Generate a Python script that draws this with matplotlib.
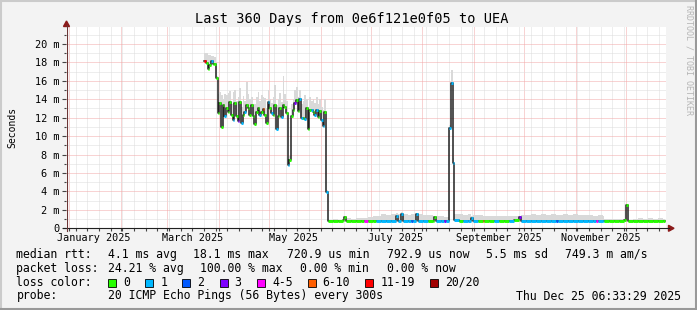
import datetime as dt
import matplotlib
matplotlib.use("Agg")
import matplotlib.pyplot as plt
import matplotlib.dates as mdates
import matplotlib.ticker as ticker
from matplotlib.patches import Polygon, Rectangle
from matplotlib.lines import Line2D
import numpy as np

W, H = 697, 310
START = dt.datetime(2024, 12, 30, 6, 33, 29)
SPAN_DAYS = 360
DATA_END = 359.5  # last sample (days after START)

# one step per entry: start day (after START), median rtt (ms), top of smoke (ms), loss bucket
days = [83, 84, 85, 86, 87, 88, 89, 90, 91, 92,
        93, 94, 95, 96, 97, 98, 99, 100, 101, 102,
        103, 104, 105, 106, 107, 108, 109, 110, 111, 112,
        113, 114, 115, 116, 117, 118, 119, 120, 121, 122,
        123, 124, 125, 126, 127, 128, 129, 130, 131, 132,
        133, 134, 135, 136, 137, 138, 139, 140, 141, 142,
        143, 144, 145, 146, 147, 148, 149, 150, 151, 152,
        153, 154, 155, 156,
        157, 160, 163, 166, 167, 168, 171, 174, 177, 179,
        181, 184, 186, 189, 192, 195, 198, 199, 201, 202,
        205, 207, 208, 210, 211, 214, 217, 220, 221, 222,
        225, 227, 228, 230, 231, 232, 233, 236, 238, 241,
        243, 244, 247, 250, 251, 254, 257, 260, 263, 266,
        269, 272, 273, 276, 279, 282, 285, 288, 291, 294,
        295, 298, 301, 304, 307, 310, 313, 316, 318, 319,
        322, 323, 326, 329, 332, 335, 336, 337, 340, 343,
        346, 349, 352, 355, 358]

median_ms = [18.1, 17.9, 17.25, 17.7, 18.1, 17.8, 17.8, 16.3, 12.5, 13.6,
             10.95, 13.4, 12.2, 13.0, 12.6, 13.7, 12.3, 11.75, 13.6, 12.2,
             11.65, 13.7, 11.4, 12.3, 12.6, 13.4, 13.0, 12.3, 13.4, 12.2,
             11.3, 12.6, 13.0, 12.3, 12.6, 12.9, 12.3, 11.4, 13.7, 13.0,
             12.5, 12.3, 13.4, 10.8, 12.2, 13.0, 12.1, 13.4, 13.2, 12.5,
             6.9, 7.4, 12.2, 12.8, 13.6, 13.9, 12.7, 14.0, 12.0, 12.0,
             11.9, 13.0, 10.8, 12.8, 12.8, 12.6, 12.3, 12.8, 12.1, 12.7,
             11.7, 11.1, 12.6, 3.9,
             0.82, 0.82, 0.82, 0.85, 1.25, 0.82, 0.82, 0.82, 0.82, 0.80,
             0.82, 0.82, 0.76, 0.76, 0.76, 0.78, 1.3, 0.80, 1.55, 0.78,
             0.78, 0.80, 0.78, 1.55, 0.80, 0.78, 0.82, 0.82, 1.2, 0.80,
             0.78, 0.80, 0.78, 10.9, 15.8, 7.1, 0.85, 0.80, 0.75, 0.78,
             1.1, 0.78, 0.80, 0.78, 0.80, 0.82, 0.78, 0.80, 0.82, 0.80,
             0.85, 1.2, 0.78, 0.78, 0.80, 0.78, 0.78, 0.80, 0.78, 0.80,
             0.78, 0.78, 0.80, 0.78, 0.80, 0.78, 0.80, 0.78, 0.78, 0.78,
             0.80, 0.82, 0.82, 0.82, 0.82, 0.85, 2.5, 0.80, 0.82, 0.82,
             0.82, 0.82, 0.82, 0.82, 0.82]

smoke_ms = [19.0, 19.0, 18.8, 18.8, 18.7, 18.7, 18.6, 16.5, 14.6, 14.8,
            14.5, 14.0, 14.6, 14.5, 14.7, 14.9, 13.5, 14.8, 15.0, 13.8,
            14.2, 15.2, 13.2, 14.4, 13.8, 15.9, 14.6, 14.0, 14.2, 13.2,
            13.5, 14.3, 14.8, 13.8, 14.5, 14.2, 14.1, 13.0, 15.0, 14.0,
            13.6, 14.2, 15.5, 13.4, 14.0, 14.7, 13.7, 16.5, 14.6, 13.8,
            7.3, 7.8, 13.5, 14.0, 15.0, 15.3, 14.2, 15.0, 13.5, 13.8,
            14.5, 14.0, 12.5, 14.2, 13.8, 14.0, 13.6, 14.2, 13.5, 14.0,
            13.2, 12.8, 14.0, 4.2,
            0.95, 1.0, 0.95, 1.05, 1.3, 1.1, 1.0, 1.1, 1.15, 1.1,
            1.2, 1.3, 1.35, 1.5, 1.45, 1.6, 1.7, 1.5, 1.75, 1.5,
            1.45, 1.5, 1.55, 1.7, 1.5, 1.4, 1.45, 1.3, 1.3, 1.3,
            1.3, 1.25, 1.25, 11.2, 17.2, 7.6, 1.6, 1.5, 1.4, 1.5,
            1.3, 1.4, 1.45, 1.35, 1.3, 1.35, 1.3, 1.3, 1.35, 1.3,
            1.3, 1.3, 1.4, 1.4, 1.5, 1.45, 1.5, 1.45, 1.5, 1.45,
            1.4, 1.5, 1.45, 1.5, 1.4, 1.45, 1.4, 1.35, 1.3, 1.4,
            1.35, 1.0, 1.0, 1.05, 1.0, 1.05, 2.55, 0.95, 1.0, 1.1,
            1.0, 1.15, 1.05, 1.1, 1.0]

loss_idx = [6, 0, 0, 0, 1, 0, 0, 0, 0, 0,
            0, 0, 1, 0, 0, 0, 0, 1, 0, 0,
            3, 0, 1, 0, 1, 0, 0, 0, 0, 0,
            0, 0, 0, 1, 0, 5, 0, 0, 1, 0,
            1, 0, 0, 1, 0, 0, 1, 0, 0, 0,
            1, 0, 0, 0, 3, 0, 0, 1, 1, 0,
            1, 0, 0, 0, 1, 0, 1, 1, 0, 0,
            1, 1, 0, 1,
            0, 0, 0, 0, 0, 0, 0, 0, 0, 4,
            0, 0, 1, 1, 1, 1, 1, 1, 1, 1,
            1, 2, 1, 1, 1, 1, 0, 0, 0, 1,
            1, 3, 1, 1, 1, 1, 1, 0, 1, 1,
            1, 1, 0, 5, 0, 0, 1, 0, 0, 1,
            0, 3, 1, 1, 1, 1, 1, 1, 1, 2,
            1, 1, 1, 1, 1, 1, 1, 1, 4, 1,
            1, 0, 0, 0, 0, 0, 0, 0, 0, 0,
            0, 0, 0, 0, 0]

loss_labels = ["0", "1", "2", "3", "4-5", "6-10", "11-19", "20/20"]
loss_colors = ["#26ff00", "#00b8ff", "#0059ff", "#7e00ff",
               "#ff00ff", "#ff5e00", "#ff0000", "#a10000"]

month_labels = ["January 2025", "March 2025", "May 2025",
                "July 2025", "September 2025", "November 2025"]
month_label_dates = [dt.datetime(2025, m, 16) for m in (1, 3, 5, 7, 9, 11)]

rtt_stats = ["4.1 ms avg", "18.1 ms max", "720.9 us min",
             "792.9 us now", "5.5 ms sd", "749.3 m am/s"]
loss_stats = ["24.21 % avg", "100.00 % max", "0.00 % min", "0.00 % now"]

MONO = "DejaVu Sans Mono"


def fx(x):
    return x / W


def fy(y):
    return 1 - y / H


fig = plt.figure(figsize=(W / 100, H / 100), dpi=100, facecolor="#f3f3f3")
ax = fig.add_axes([fx(66), fy(228.3), 600 / W, 201 / H])
ax.set_facecolor("white")
x0 = mdates.date2num(START)
ax.set_xlim(x0, x0 + SPAN_DAYS)
ax.set_ylim(0, 21.81)

# grid (rrdtool style dotted)
ax.xaxis.set_major_locator(mdates.MonthLocator())
ax.xaxis.set_minor_locator(mdates.WeekdayLocator(byweekday=mdates.SU))
ax.yaxis.set_major_locator(ticker.MultipleLocator(2))
ax.yaxis.set_minor_locator(ticker.MultipleLocator(1))
ax.set_axisbelow(True)
ax.grid(True, which="minor", color="#dddddd", ls=(0, (1, 1)), lw=0.72)
ax.grid(True, which="major", color="#f2a8a8", ls=(0, (1, 1)), lw=0.72)
for s in ax.spines.values():
    s.set_visible(False)

ax.yaxis.set_major_formatter(ticker.FuncFormatter(
    lambda v, p: "0" if v == 0 else f"{v:.0f} m"))
ax.tick_params(axis="y", which="major", length=3, width=0.8, color="#444444",
               pad=1.8, labelsize=7.4, labelfontfamily=MONO)
ax.tick_params(axis="y", which="minor", length=1.5, width=0.8, color="#444444")
ax.tick_params(axis="x", which="both", labelbottom=False, length=2,
               width=0.8, color="#444444")

# smoke + median
xs = x0 + np.array(days + [DATA_END])
med = np.array(median_ms + [median_ms[-1]])
hi = np.array(smoke_ms + [smoke_ms[-1]])
ax.fill_between(xs, med, hi, step="post", color="#d9d9d9", lw=0, zorder=2)
ax.step(xs, med, where="post", color="#202020", lw=1.1, zorder=3)
ax.hlines(median_ms, xs[:-1], xs[1:], colors=[loss_colors[k] for k in loss_idx],
          lw=2.1, zorder=4)

# month labels
trans = ax.get_xaxis_transform()
for lab, d in zip(month_labels, month_label_dates):
    ax.text(mdates.date2num(d), -9.4 / 201, lab, transform=trans, ha="center",
            va="center", fontsize=7.3, family=MONO)

# axis lines and arrows
fig.add_artist(Line2D([fx(63), fx(669)], [fy(228.3), fy(228.3)], color="#202020", lw=0.8))
fig.add_artist(Line2D([fx(66.5), fx(66.5)], [fy(231), fy(25)], color="#6b3535", lw=0.8))
fig.add_artist(Polygon([[fx(66.5), fy(21)], [fx(63.5), fy(26.5)], [fx(69.5), fy(26.5)]],
                       closed=True, color="#8b1a1a", transform=fig.transFigure))
fig.add_artist(Polygon([[fx(674), fy(228.3)], [fx(668.5), fy(225.3)], [fx(668.5), fy(231.3)]],
                       closed=True, color="#8b1a1a", transform=fig.transFigure))

# titles
fig.text(fx(352), fy(18.5), "Last 360 Days from 0e6f121e0f05 to UEA", ha="center",
         va="center", fontsize=9.8, family=MONO)
fig.text(fx(12), fy(127.7), "Seconds", rotation=90, ha="center", va="center",
         fontsize=7.0, family=MONO)
fig.text(fx(688.5), fy(5), "RRDTOOL / TOBI OETIKER", rotation=270, ha="center",
         va="top", fontsize=6, family=MONO, color="#b5b5b5")

# legend
LEG = 8.3
rtt_x = [107.6, 193.3, 286.7, 386.7, 485.8, 565.3]
loss_x = [107.6, 200, 300, 386.7]
fig.text(fx(16.4), fy(254.3), "median rtt:", va="center", fontsize=LEG, family=MONO)
for s, x in zip(rtt_stats, rtt_x):
    fig.text(fx(x), fy(254.3), s, va="center", fontsize=LEG, family=MONO)
fig.text(fx(16.4), fy(268.3), "packet loss:", va="center", fontsize=LEG, family=MONO)
for s, x in zip(loss_stats, loss_x):
    fig.text(fx(x), fy(268.3), s, va="center", fontsize=LEG, family=MONO)
fig.text(fx(16.4), fy(282.3), "loss color:", va="center", fontsize=LEG, family=MONO)
sq_x = [108, 145.3, 182.2, 219.6, 257, 307.6, 365.3, 429.8]
for lab, col, x in zip(loss_labels, loss_colors, sq_x):
    fig.add_artist(Rectangle((fx(x), fy(286.5)), 8 / W, 8 / H, facecolor=col,
                             edgecolor="#000000", lw=0.6, transform=fig.transFigure))
    fig.text(fx(x + 15), fy(282.3), lab, va="center", fontsize=LEG, family=MONO)
fig.text(fx(16.4), fy(296), "probe:", va="center", fontsize=LEG, family=MONO)
fig.text(fx(107.6), fy(296), "20 ICMP Echo Pings (56 Bytes) every 300s", va="center",
         fontsize=LEG, family=MONO)
fig.text(fx(681), fy(296), "Thu Dec 25 06:33:29 2025", ha="right", va="center",
         fontsize=LEG, family=MONO)

# 3d frame
fig.add_artist(Line2D([0, 1], [1 - 1 / H, 1 - 1 / H], color="#cbcbcb", lw=1.5))
fig.add_artist(Line2D([1 / W, 1 / W], [0, 1], color="#cbcbcb", lw=1.5))
fig.add_artist(Line2D([0, 1], [1 / H, 1 / H], color="#999999", lw=1.5))
fig.add_artist(Line2D([1 - 1 / W, 1 - 1 / W], [0, 1], color="#999999", lw=1.5))

fig.savefig("out.png", dpi=100, facecolor=fig.get_facecolor())
